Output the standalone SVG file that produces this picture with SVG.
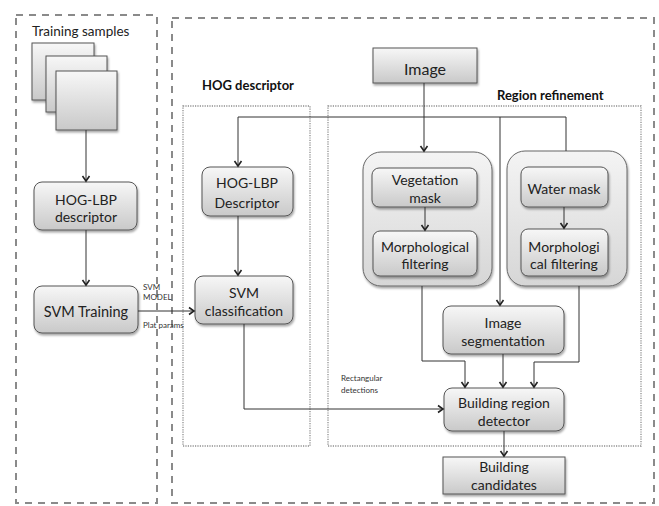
<svg xmlns="http://www.w3.org/2000/svg" width="659" height="506" viewBox="0 0 659 506">
<defs>
<linearGradient id="g" x1="0" y1="0" x2="0" y2="1">
<stop offset="0" stop-color="#f7f7f7"/>
<stop offset="1" stop-color="#c9c9c9"/>
</linearGradient>
<linearGradient id="go" x1="0" y1="0" x2="0" y2="1">
<stop offset="0" stop-color="#f4f4f4"/>
<stop offset="1" stop-color="#d6d6d6"/>
</linearGradient>
<filter id="sh" x="-10%" y="-10%" width="130%" height="130%">
<feDropShadow dx="1" dy="2" stdDeviation="1.2" flood-color="#000" flood-opacity="0.35"/>
</filter>
<marker id="ar" markerWidth="10" markerHeight="10" refX="8" refY="5" orient="auto" markerUnits="userSpaceOnUse">
<path d="M3,1.5 L8,5 L3,8.5" fill="none" stroke="#222" stroke-width="1.6"/>
</marker>
</defs>
<style>
.dash{fill:none;stroke:#8a8a8a;stroke-width:2;stroke-dasharray:7,6}
.dot{fill:none;stroke:#8f8f8f;stroke-width:1.3;stroke-dasharray:1.2,1.2}
.n{fill:url(#g);stroke:#555;stroke-width:1;filter:url(#sh)}
.o{fill:url(#go);stroke:#666;stroke-width:1;filter:url(#sh)}
.t{font-family:Lato,"Open Sans","Liberation Sans",sans-serif;font-size:14px;fill:#222;text-anchor:middle}
.h{font-family:Lato,"Open Sans","Liberation Sans",sans-serif;font-size:13px;font-weight:bold;fill:#111}
.s{font-family:Lato,"Open Sans","Liberation Sans",sans-serif;font-size:8px;fill:#333}
.c{fill:none;stroke:#333;stroke-width:1}
</style>

<g id="frames">
<rect class="dash" x="16" y="15" width="141" height="488"/>
<rect class="dash" x="172" y="18" width="482" height="485"/>
<rect class="dot" x="183" y="106" width="127" height="340"/>
<rect class="dot" x="328" y="106" width="313" height="340"/>
<text class="h" x="202" y="90">HOG descriptor</text>
<text class="h" x="497" y="100">Region refinement</text>
</g>

<g id="training-samples">
<text class="t" x="32" y="36" style="text-anchor:start;font-size:13.5px">Training samples</text>
<rect class="n" x="32" y="43" width="62" height="57"/>
<rect class="n" x="46" y="56" width="61" height="56"/>
<rect class="n" x="56" y="71" width="61" height="59"/>
</g>

<g id="hoglbp-train">
<rect class="n" x="34" y="182" width="103" height="48" rx="8"/>
<text class="t" x="86" y="205">HOG-LBP</text>
<text class="t" x="86" y="222">descriptor</text>
</g>

<g id="svm-training">
<rect class="n" x="34" y="286" width="104" height="47" rx="8"/>
<text class="t" x="86" y="317" style="font-size:14.5px">SVM Training</text>
</g>

<g id="hoglbp-desc">
<rect class="n" x="202" y="167" width="91" height="49" rx="8"/>
<text class="t" x="247" y="188">HOG-LBP</text>
<text class="t" x="247" y="208">Descriptor</text>
</g>

<g id="svm-class">
<rect class="n" x="195" y="276" width="98" height="48" rx="8"/>
<text class="t" x="244" y="298">SVM</text>
<text class="t" x="244" y="316">classification</text>
</g>

<g id="image">
<rect class="n" x="373" y="48" width="104" height="35"/>
<text class="t" x="425" y="75" style="font-size:16px">Image</text>
</g>

<g id="vegetation-group">
<rect class="o" x="363" y="152" width="129" height="134" rx="18"/>
<rect class="n" x="372" y="168" width="105" height="39" rx="7"/>
<text class="t" x="425" y="185">Vegetation</text>
<text class="t" x="425" y="203">mask</text>
<rect class="n" x="373" y="231" width="104" height="45" rx="7"/>
<text class="t" x="425" y="252">Morphological</text>
<text class="t" x="425" y="269">filtering</text>
</g>

<g id="water-group">
<rect class="o" x="507" y="151" width="120" height="135" rx="18"/>
<rect class="n" x="521" y="167" width="87" height="40" rx="7"/>
<text class="t" x="564" y="194">Water mask</text>
<rect class="n" x="521" y="229" width="87" height="47" rx="7"/>
<text class="t" x="564" y="252">Morphologi</text>
<text class="t" x="564" y="269">cal filtering</text>
</g>

<g id="image-seg">
<rect class="n" x="443" y="306" width="121" height="48" rx="8"/>
<text class="t" x="503" y="328">Image</text>
<text class="t" x="503" y="346">segmentation</text>
</g>

<g id="building-detector">
<rect class="n" x="444" y="388" width="120" height="43" rx="8"/>
<text class="t" x="504" y="408">Building region</text>
<text class="t" x="504" y="426">detector</text>
</g>

<g id="building-candidates">
<rect class="n" x="443" y="457" width="122" height="37"/>
<text class="t" x="504" y="472">Building</text>
<text class="t" x="504" y="490">candidates</text>
</g>

<g id="connectors">
<path class="c" d="M86,130 V181" marker-end="url(#ar)"/>
<path class="c" d="M86,230 V285" marker-end="url(#ar)"/>
<path class="c" d="M138,311 H194" marker-end="url(#ar)"/>
<path class="c" d="M238,216 V275" marker-end="url(#ar)"/>
<path class="c" d="M424,83 V151" marker-end="url(#ar)"/>
<path class="c" d="M238,117 H566 V151"/>
<path class="c" d="M238,117 V166" marker-end="url(#ar)"/>
<path class="c" d="M500,117 V305" marker-end="url(#ar)"/>
<path class="c" d="M425,207 V230" marker-end="url(#ar)"/>
<path class="c" d="M564,207 V228" marker-end="url(#ar)"/>
<path class="c" d="M422,286 V361 H465 V387" marker-end="url(#ar)"/>
<path class="c" d="M503,354 V387" marker-end="url(#ar)"/>
<path class="c" d="M579,286 V362 H534 V387" marker-end="url(#ar)"/>
<path class="c" d="M244,324 V409 H443" marker-end="url(#ar)"/>
<path class="c" d="M504,431 V456" marker-end="url(#ar)"/>
<text class="s" x="143" y="290">SVM</text>
<text class="s" x="143" y="300">MODEL</text>
<text class="s" x="143" y="328">Plat params</text>
<text class="s" x="341" y="381">Rectangular</text>
<text class="s" x="341" y="393">detections</text>
</g>
</svg>
